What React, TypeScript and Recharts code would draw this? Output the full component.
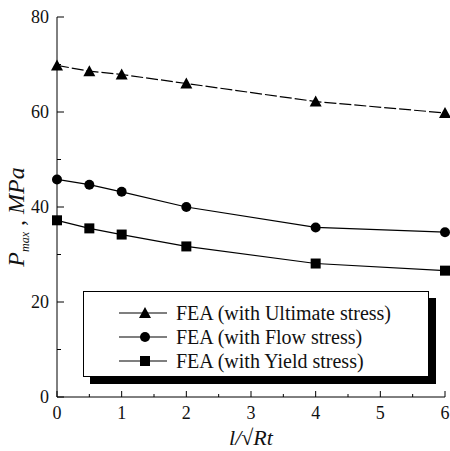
import { LineChart, Line, XAxis, YAxis, Legend } from 'recharts'

// l/sqrt(Rt) positions
const ratio = [0, 0.5, 1, 2, 4, 6]
// P_max in MPa
const ultimate = [69.8, 68.6, 67.9, 66.0, 62.2, 59.8]
const flow = [45.8, 44.7, 43.2, 40.0, 35.7, 34.7]
const yieldStress = [37.2, 35.5, 34.2, 31.7, 28.1, 26.6]

const xTicks = [0, 0.5, 1, 1.5, 2, 2.5, 3, 3.5, 4, 4.5, 5, 5.5, 6]
const yTicks = [0, 10, 20, 30, 40, 50, 60, 70, 80]

const seriesKeys = ['ultimate', 'flow', 'yieldStress']
const seriesNames: Record<string, string> = {
  ultimate: 'FEA (with Ultimate stress)',
  flow: 'FEA (with Flow stress)',
  yieldStress: 'FEA (with Yield stress)',
}

const data = ratio.map((r, i) => ({
  r,
  ultimate: ultimate[i],
  flow: flow[i],
  yieldStress: yieldStress[i],
}))

const FONT = '"Liberation Serif", "Times New Roman", serif'

function Marker({ kind, cx, cy }: { kind: string; cx: number; cy: number }) {
  if (kind === 'ultimate') {
    return <polygon points={`${cx},${cy - 6} ${cx + 6},${cy + 5} ${cx - 6},${cy + 5}`} fill="#000" />
  }
  if (kind === 'flow') {
    return <circle cx={cx} cy={cy} r={5} fill="#000" />
  }
  return <rect x={cx - 5} y={cy - 5} width={10} height={10} fill="#000" />
}

const dotFor = (kind: string) => (props: any) => (
  <Marker key={`${kind}-${props.index}`} kind={kind} cx={props.cx} cy={props.cy} />
)

function XTick(props: any) {
  const { x, y, payload } = props
  const major = Number.isInteger(payload.value)
  return (
    <g>
      <line x1={x} y1={y} x2={x} y2={y - (major ? 6 : 3)} stroke="#000" />
      {major && (
        <text x={x} y={y + 22} textAnchor="middle" fontSize={18} fontFamily={FONT} fill="#111">
          {payload.value}
        </text>
      )}
    </g>
  )
}

function YTick(props: any) {
  const { x, y, payload } = props
  const major = payload.value % 20 === 0
  return (
    <g>
      <line x1={x} y1={y} x2={x + (major ? 7 : 4)} y2={y} stroke="#000" />
      {major && (
        <text x={x - 8} y={y + 6} textAnchor="end" fontSize={18} fontFamily={FONT} fill="#111">
          {payload.value}
        </text>
      )}
    </g>
  )
}

function LegendBox() {
  return (
    <div
      style={{
        width: 346,
        height: 86,
        border: '1px solid #000',
        background: '#fff',
        boxShadow: '7px 7px 0 #000',
        boxSizing: 'border-box',
        paddingTop: 9,
        fontFamily: FONT,
        fontSize: 20,
        color: '#111',
      }}
    >
      {seriesKeys.map((key) => (
        <div key={key} style={{ display: 'flex', alignItems: 'center', height: 24 }}>
          <svg width={92} height={24}>
            <line x1={35} y1={12} x2={83} y2={12} stroke="#000" strokeWidth={1.2} />
            <Marker kind={key} cx={61} cy={12} />
          </svg>
          <span>{seriesNames[key]}</span>
        </div>
      ))}
    </div>
  )
}

export default function App() {
  return (
    <div style={{ position: 'absolute', left: 0, top: 0 }}>
      <LineChart width={450} height={451} data={data} margin={{ top: 17, right: 5, bottom: 0, left: 0 }}>
        <XAxis
          dataKey="r"
          type="number"
          domain={[0, 6]}
          ticks={xTicks}
          interval={0}
          tickSize={0}
          tickMargin={0}
          tickLine={false}
          tick={XTick}
          height={54}
          axisLine={{ stroke: '#000' }}
          label={{
            value: 'l/√Rt',
            position: 'insideBottom',
            offset: 6,
            style: { fontFamily: FONT, fontStyle: 'italic', fontSize: 22, fill: '#111' },
          }}
        />
        <XAxis xAxisId="top" orientation="top" dataKey="r" type="number" domain={[0, 6]} height={0} tick={false} tickLine={false} axisLine={{ stroke: '#000' }} />
        <YAxis
          type="number"
          domain={[0, 80]}
          ticks={yTicks}
          interval={0}
          tickSize={0}
          tickMargin={0}
          tickLine={false}
          tick={YTick}
          width={57}
          axisLine={{ stroke: '#000' }}
          label={(p: any) => {
            const vb = p.viewBox
            const cy = vb.y + vb.height / 2 + 10
            return (
              <text
                transform={`translate(24, ${cy}) rotate(-90)`}
                textAnchor="middle"
                fontFamily={FONT}
                fontStyle="italic"
                fontSize={24}
                fill="#111"
              >
                P<tspan fontSize={12} dy={5}>max</tspan>
                <tspan dy={-5} fontStyle="normal"> , </tspan>
                <tspan>MPa</tspan>
              </text>
            )
          }}
        />
        <YAxis yAxisId="right" orientation="right" domain={[0, 80]} width={0} tick={false} tickLine={false} axisLine={{ stroke: '#000' }} />
        <Legend
          layout="vertical"
          align="center"
          verticalAlign="middle"
          content={LegendBox}
          wrapperStyle={{ left: 83, top: 291, width: 346 }}
        />
        <Line
          dataKey="ultimate"
          name={seriesNames.ultimate}
          stroke="#000"
          strokeWidth={1.2}
          strokeDasharray="12 3"
          dot={dotFor('ultimate')}
          isAnimationActive={false}
        />
        <Line
          dataKey="flow"
          name={seriesNames.flow}
          stroke="#000"
          strokeWidth={1.2}
          dot={dotFor('flow')}
          isAnimationActive={false}
        />
        <Line
          dataKey="yieldStress"
          name={seriesNames.yieldStress}
          stroke="#000"
          strokeWidth={1.2}
          dot={dotFor('yieldStress')}
          isAnimationActive={false}
        />
      </LineChart>
    </div>
  )
}
